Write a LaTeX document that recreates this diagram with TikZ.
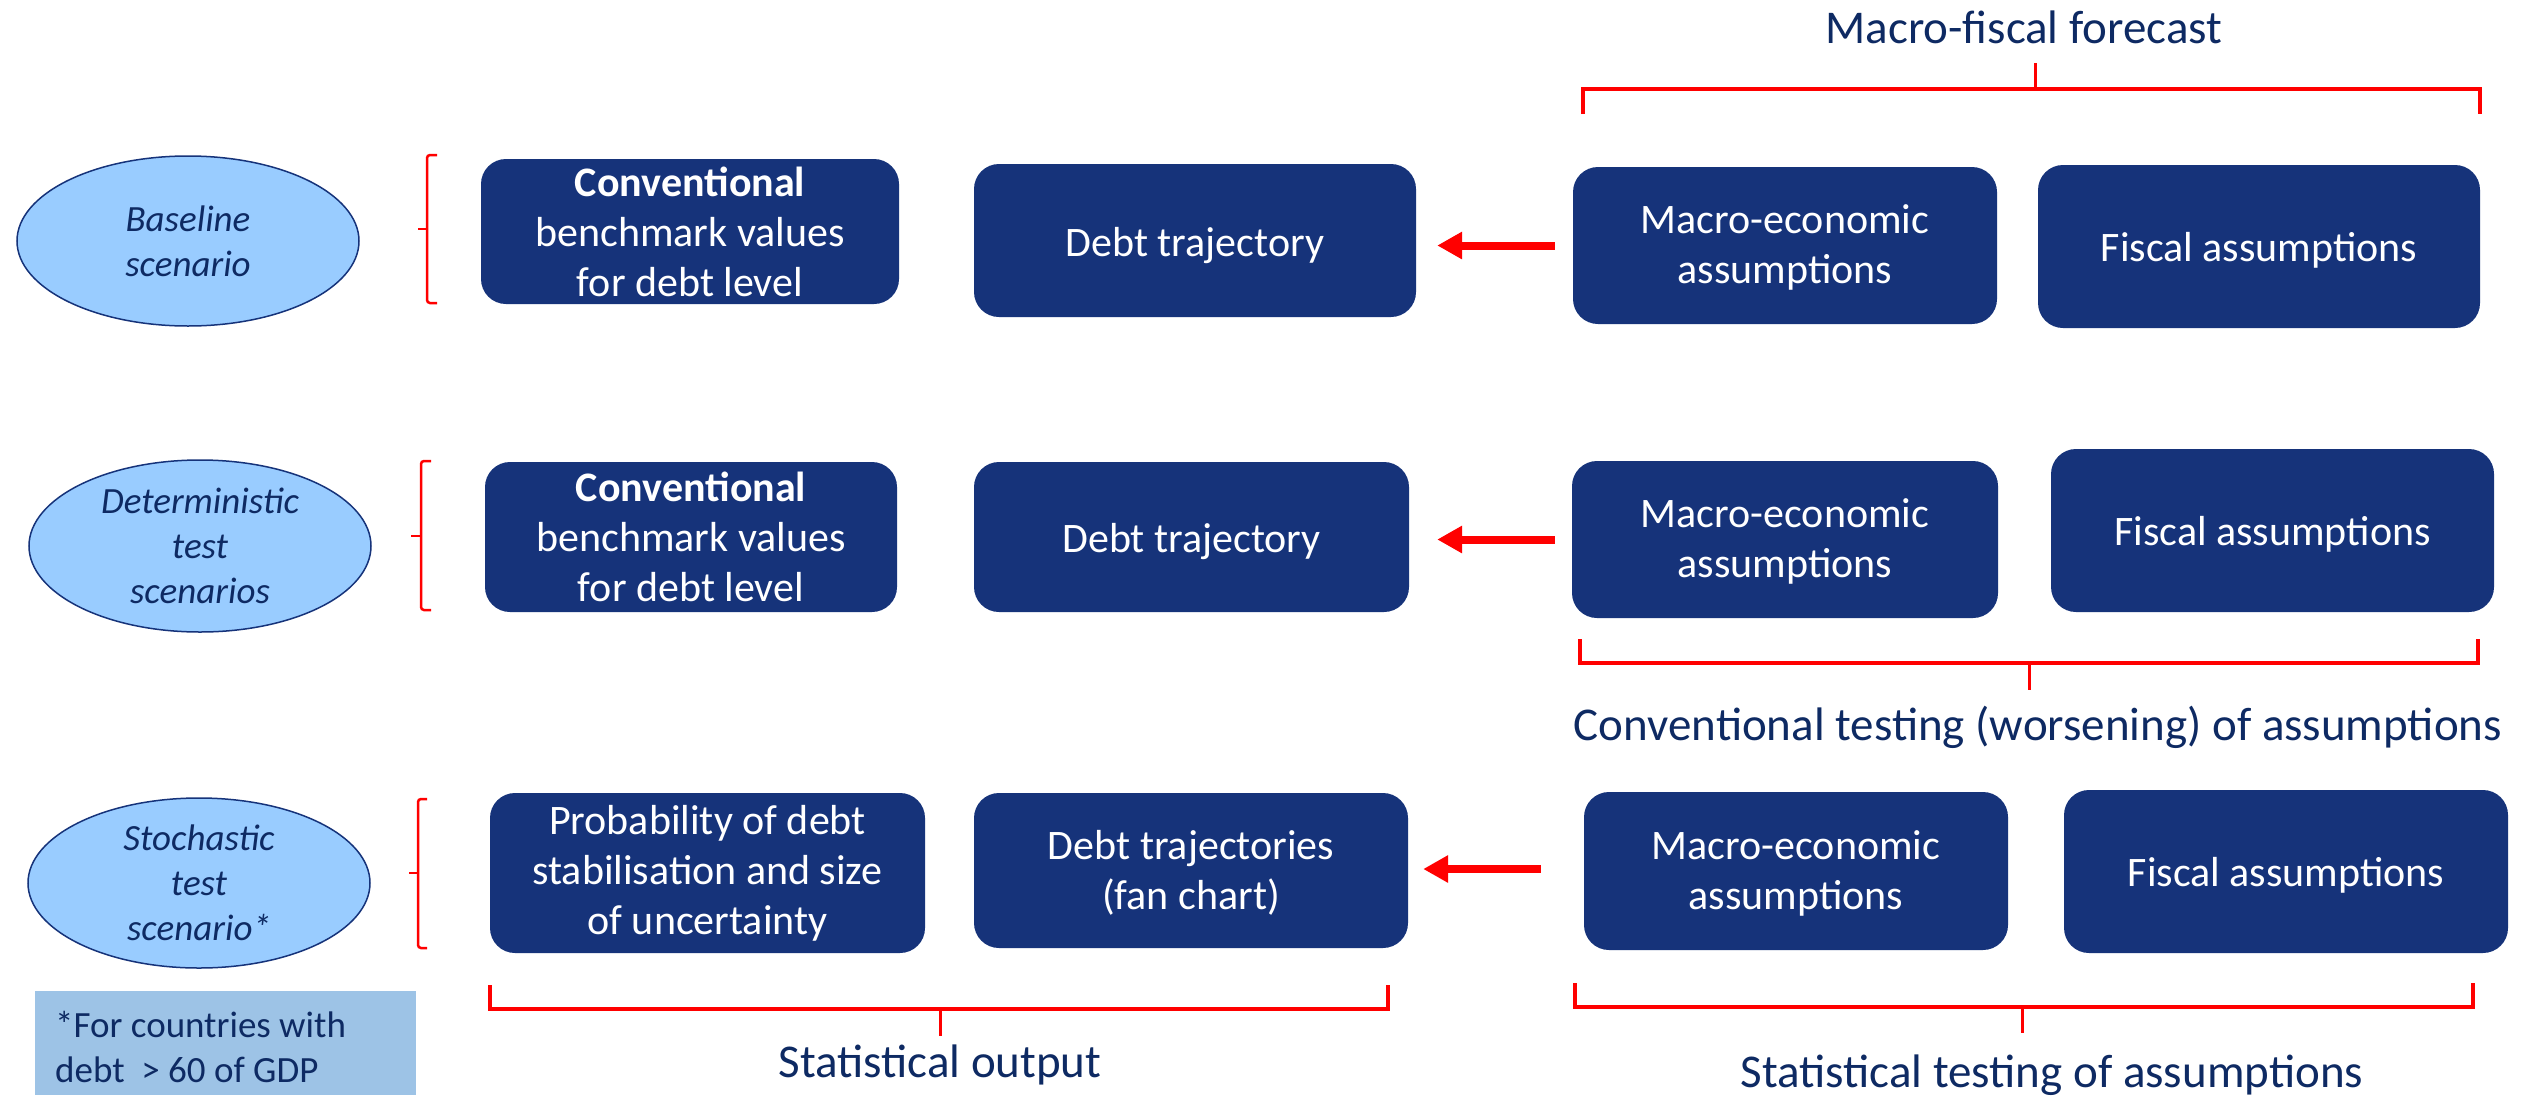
\documentclass[tikz,border=0pt]{standalone}
\usepackage{fontspec}
\setmainfont{Carlito}
\usetikzlibrary{arrows.meta,shapes.geometric}

\definecolor{navybox}{HTML}{16337A}
\definecolor{navytext}{HTML}{0E2A63}
\definecolor{skyfill}{HTML}{99CCFF}
\definecolor{notefill}{HTML}{9DC3E6}
\definecolor{markred}{HTML}{FF0000}

% invisible strut that pushes a one-line label a little lower in its box
\newcommand{\toppad}[1]{\rule{0pt}{#1}}

\tikzset{
  block/.style={fill=navybox, draw=none, rounded corners=25pt, text=white,
    align=center, inner sep=0pt, font=\fontsize{42}{50}\selectfont},
  scen/.style={ellipse, fill=skyfill, draw=navybox, line width=1.5pt, inner sep=0pt},
  scentext/.style={text=navytext, align=center, inner sep=0pt,
    font=\fontsize{37}{45}\selectfont\itshape},
  lbl/.style={text=navytext, inner sep=0pt, font=\fontsize{47}{56}\selectfont},
  bracket/.style={draw=markred, line width=3.5pt},
  bracetick/.style={draw=markred, line width=2.5pt, rounded corners=3pt},
  flow/.style={draw=markred, line width=8pt, -{Triangle[length=25pt,width=26pt]}},
}

\begin{document}
\begin{tikzpicture}[x=1pt, y=-1pt]
  \useasboundingbox (0,0) rectangle (2531,1095);
  \fill[white] (0,0) rectangle (2531,1095);

  % scenario ellipses
  \node[scen, minimum width=342pt, minimum height=170pt] (e1) at (188,241) {};
  \node[scentext] (e1t) at (e1) {Baseline\\scenario};
  \node[scen, minimum width=342pt, minimum height=172pt] (e2) at (200,546) {};
  \node[scentext] (e2t) at (e2) {Deterministic\\test\\scenarios};
  \node[scen, minimum width=342pt, minimum height=170pt] (e3) at (199,883) {};
  \node[scentext] (e3t) at (e3) {Stochastic\\test\\scenario*};

  % braces next to the ellipses
  \draw[bracetick] (437,155) -- (427,155) -- (427,303) -- (437,303);
  \draw[bracetick] (427,229) -- (418,229);
  \draw[bracetick] (431,461) -- (421,461) -- (421,610) -- (431,610);
  \draw[bracetick] (421,536) -- (411,536);
  \draw[bracetick] (427,799) -- (418,799) -- (418,948) -- (427,948);
  \draw[bracetick] (418,873) -- (409,873);

  % row 1: baseline
  \node[block, minimum width=418pt, minimum height=145pt] (c1) at (690,231.5)
    {\textbf{Conventional}\\benchmark values\\for debt level};
  \node[block, minimum width=442pt, minimum height=153pt] (d1) at (1195,240.5) {\toppad{39pt}Debt trajectory};
  \node[block, minimum width=424pt, minimum height=157pt] (m1) at (1785,245.5) {\toppad{33pt}Macro-economic\\assumptions};
  \node[block, minimum width=442pt, minimum height=163pt] (f1) at (2259,246.5) {\toppad{36pt}Fiscal assumptions};

  % row 2: deterministic tests
  \node[block, minimum width=412pt, minimum height=150pt] (c2) at (691,537)
    {\textbf{Conventional}\\benchmark values\\for debt level};
  \node[block, minimum width=435pt, minimum height=150pt] (d2) at (1191.5,537) {\toppad{39pt}Debt trajectory};
  \node[block, minimum width=426pt, minimum height=157pt] (m2) at (1785,539.5) {\toppad{33pt}Macro-economic\\assumptions};
  \node[block, minimum width=443pt, minimum height=163pt] (f2) at (2272.5,530.5) {\toppad{36pt}Fiscal assumptions};

  % row 3: stochastic test
  \node[block, minimum width=435pt, minimum height=160pt] (p3) at (707.5,873)
    {Probability of debt\\stabilisation and size\\of uncertainty};
  \node[block, minimum width=434pt, minimum height=155pt] (d3) at (1191,870.5) {\toppad{33pt}Debt trajectories\\(fan chart)};
  \node[block, minimum width=424pt, minimum height=158pt] (m3) at (1796,871) {\toppad{33pt}Macro-economic\\assumptions};
  \node[block, minimum width=444pt, minimum height=163pt] (f3) at (2286,871.5) {\toppad{36pt}Fiscal assumptions};

  % assumptions feed the debt paths
  \draw[flow, shorten <=18pt, shorten >=21pt] (m1.west) -- (m1.west -| d1.east);
  \draw[flow, shorten <=17pt, shorten >=28pt] (m2.west) -- (m2.west -| d2.east);
  \draw[flow, shorten <=43pt, shorten >=15pt] ([yshift=2pt]m3.west) -- ([yshift=2pt]m3.west -| d3.east);

  % group brackets and their captions
  \draw[bracket] (1583,114) -- (1583,89) -- (2480,89) -- (2480,114);
  \draw[bracket, line width=3pt] (2035,89) -- (2035,63);
  \node[lbl, anchor=base] (tforecast) at (2024,43) {Macro-fiscal forecast};

  \draw[bracket] (1580,639) -- (1580,663) -- (2478,663) -- (2478,639);
  \draw[bracket, line width=3pt] (2029,663) -- (2029,690);
  \node[lbl, anchor=base] (tconv) at (2038,740) {Conventional testing (worsening) of assumptions};

  \draw[bracket] (490,985) -- (490,1009) -- (1388,1009) -- (1388,985);
  \draw[bracket, line width=3pt] (940,1009) -- (940,1036);
  \node[lbl, anchor=base] (tstatout) at (940,1077) {Statistical output};

  \draw[bracket] (1575,983) -- (1575,1007) -- (2473,1007) -- (2473,983);
  \draw[bracket, line width=3pt] (2022,1007) -- (2022,1033);
  \node[lbl, anchor=base] (tstattest) at (2052,1087) {Statistical testing of assumptions};

  % footnote
  \node[fill=notefill, draw=none, anchor=north west, minimum width=381pt, minimum height=104pt,
        inner sep=0pt] (note) at (35,991) {};
  \node[text=navytext, anchor=west, align=left, inner sep=0pt,
        font=\fontsize{37}{45}\selectfont] (notet) at (55,1047)
    {*For countries with\\debt\ \ > 60 of GDP};
\end{tikzpicture}
\end{document}
